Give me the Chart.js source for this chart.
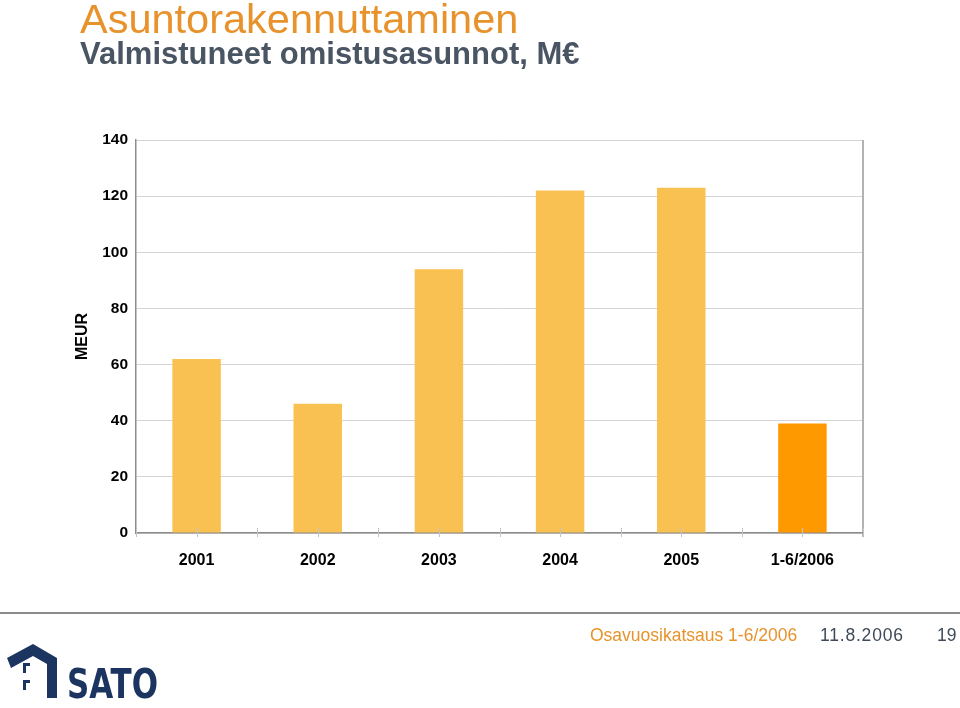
<!DOCTYPE html>
<html lang="fi">
<head>
<meta charset="UTF-8">
<title>Asuntorakennuttaminen</title>
<script src="https://cdn.jsdelivr.net/npm/chart.js@4"></script>
<style>
  * { box-sizing: border-box; margin: 0; padding: 0; }
  body { width: 960px; height: 708px; background: #fff; position: relative; overflow: hidden;
         font-family: "Liberation Sans", Arial, sans-serif; }
  #chart { position: absolute; left: 0; top: 0; }
  .t { position: absolute; white-space: nowrap; line-height: 1; }
  #title { left: 80px; top: -2px; font-size: 41.5px; color: #e8922c; }
  #sub { left: 80px; top: 38px; font-size: 31px; font-weight: bold; color: #4a5564; }
  #rule { position: absolute; left: 0; top: 612px; width: 960px; height: 2px; background: #8a8a8a; }
  #f1 { left: 590px; top: 627px; font-size: 17.5px; color: #e8922c; }
  #f2 { left: 820px; top: 627px; font-size: 17.5px; color: #3f4a58; letter-spacing: 0.8px; }
  #f3 { left: 937px; top: 627px; font-size: 17.5px; color: #3f4a58; }
  #logo { position: absolute; left: 0; top: 635px; }
</style>
</head>
<body>
<canvas id="chart" width="960" height="708"></canvas>
<div class="t" id="title">Asuntorakennuttaminen</div>
<div class="t" id="sub">Valmistuneet omistusasunnot, M€</div>
<div id="rule"></div>
<div class="t" id="f1">Osavuosikatsaus 1-6/2006</div>
<div class="t" id="f2">11.8.2006</div>
<div class="t" id="f3">19</div>
<svg id="logo" width="170" height="73" viewBox="0 635 170 73">
  <path d="M7,658 L33,644 L57,658 L57,698 L47,698 L47,664 L33,656 L11,668 Z" fill="#1c3560"/>
  <rect x="23" y="663" width="7" height="3" fill="#1c3560"/>
  <rect x="23" y="663" width="3" height="10" fill="#1c3560"/>
  <rect x="23" y="680" width="7" height="3" fill="#1c3560"/>
  <rect x="23" y="680" width="3" height="10" fill="#1c3560"/>
  <text x="67" y="698" font-family="Liberation Sans Narrow, DejaVu Sans Condensed, Liberation Sans, sans-serif"
        font-weight="bold" font-size="40" fill="#1c3560" textLength="91" lengthAdjust="spacingAndGlyphs">SATO</text>
</svg>
<script>
// data
const categories = ['2001', '2002', '2003', '2004', '2005', '1-6/2006'];
const valuesMEUR = [62, 46, 94, 122, 123, 39];
const barColors = ['#f9c152', '#f9c152', '#f9c152', '#f9c152', '#f9c152', '#ff9900'];
const yMax = 140;
const yStep = 20;

// small tick marks under the category axis + right frame line
const frame = {
  id: 'frame',
  afterDraw(chart) {
    const { ctx, chartArea: a, scales: { x } } = chart;
    ctx.save();
    ctx.strokeStyle = '#9a9a9a';
    ctx.lineWidth = 1.5;
    ctx.beginPath();
    ctx.moveTo(a.right, a.top);
    ctx.lineTo(a.right, a.bottom + 4);
    ctx.stroke();
    ctx.strokeStyle = '#c4c4c4';
    ctx.lineWidth = 1;
    ctx.beginPath();
    for (let i = 0; i <= categories.length * 2; i++) {
      const px = Math.round(x.getPixelForValue(i / 2 - 0.5)) + 0.5;
      ctx.moveTo(px, a.bottom - 5);
      ctx.lineTo(px, a.bottom + 4);
    }
    ctx.stroke();
    ctx.restore();
  }
};

new Chart(document.getElementById('chart'), {
  type: 'bar',
  data: {
    labels: categories,
    datasets: [{
      data: valuesMEUR,
      backgroundColor: barColors,
      borderWidth: 0,
      categoryPercentage: 1,
      barPercentage: 0.4
    }]
  },
  options: {
    responsive: false,
    animation: false,
    events: [],
    layout: { padding: { left: 0, top: 140, right: 97, bottom: 135 } },
    plugins: { legend: { display: false }, tooltip: { enabled: false } },
    scales: {
      x: {
        offset: true,
        afterFit: s => { s.height = 40; },
        grid: { display: false, drawTicks: false },
        border: { display: true, color: '#8c8c8c', width: 1.5 },
        ticks: { color: '#000', padding: 18, font: { family: 'Liberation Sans', size: 16, weight: 'bold' }, maxRotation: 0 }
      },
      y: {
        min: 0, max: yMax,
        afterFit: s => { s.width = 136; },
        grid: { color: '#d4d4d4', lineWidth: 1, drawTicks: false },
        border: { display: true, color: '#8c8c8c', width: 1.5 },
        ticks: { stepSize: yStep, color: '#000', padding: 8, font: { family: 'Liberation Sans', size: 15.5, weight: 'bold' } },
        title: {
          display: true, text: 'MEUR', color: '#000',
          font: { family: 'Liberation Sans', size: 16, weight: 'bold' },
          padding: { top: 73, bottom: 0 }
        }
      }
    }
  },
  plugins: [frame]
});
</script>
</body>
</html>
